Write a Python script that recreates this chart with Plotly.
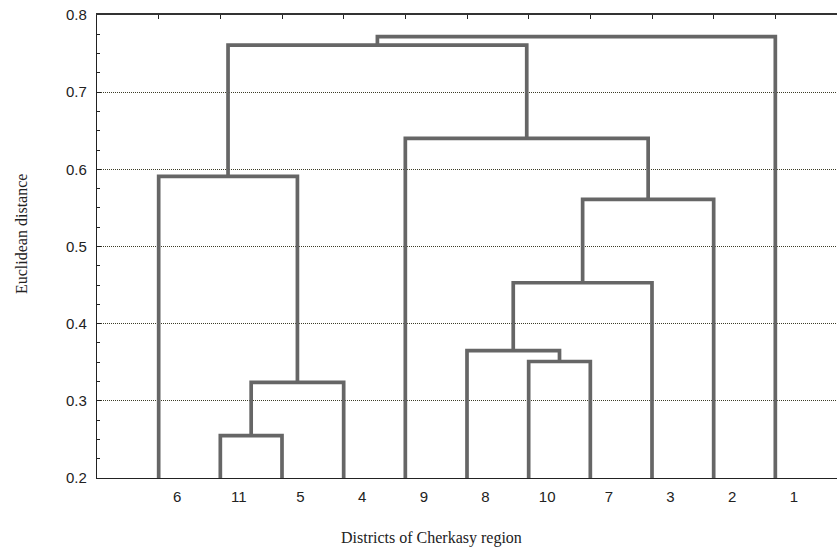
import plotly.graph_objects as go

# ---- data ----
leaf_order = ["6", "11", "5", "4", "9", "8", "10", "7", "3", "2", "1"]
merge_left = ["11", "C1", "6", "10", "8", "C5", "C6", "9", "C3", "C9"]
merge_right = ["5", "4", "C2", "7", "C4", "3", "2", "C7", "C8", "1"]
merge_height = [0.255, 0.324, 0.591, 0.351, 0.365, 0.453, 0.561, 0.640, 0.761, 0.772]
y_ticks = [0.2, 0.3, 0.4, 0.5, 0.6, 0.7, 0.8]
y_tick_text = ["0.2", "0.3", "0.4", "0.5", "0.6", "0.7", "0.8"]
base_level = 0.2

# ---- build dendrogram path from the linkage ----
pos = {lab: i + 1 for i, lab in enumerate(leaf_order)}
hgt = {lab: base_level for lab in leaf_order}
xs, ys = [], []
for k, (a, b, h) in enumerate(zip(merge_left, merge_right, merge_height)):
    xa, xb = pos[a], pos[b]
    xs += [xa, xa, xb, xb, None]
    ys += [hgt[a], h, h, hgt[b], None]
    cid = "C%d" % (k + 1)
    pos[cid] = (xa + xb) / 2
    hgt[cid] = h

W, H = 837, 549
ml, mr, mt, mb = 97, 0, 15, 71
pw, ph = W - ml - mr, H - mt - mb


def px_x(x):  # screen px -> paper x
    return (x - ml) / pw


def px_y(y):  # screen px -> paper y
    return (H - mb - y) / ph


fig = go.Figure()
fig.add_trace(go.Scatter(x=xs, y=ys, mode="lines",
                         line=dict(color="#666666", width=3.7),
                         hoverinfo="skip", showlegend=False))
fig.add_trace(go.Scatter(x=[1], y=[0.5], xaxis="x2", mode="markers",
                         marker=dict(opacity=0), showlegend=False, hoverinfo="skip"))

tick_font = dict(family="Liberation Sans, Arial, sans-serif", size=15, color="#222222")
xr = [0, 12]

fig.update_layout(
    width=W, height=H,
    margin=dict(l=ml, r=mr, t=mt, b=mb, autoexpand=False),
    paper_bgcolor="white", plot_bgcolor="white",
    xaxis=dict(range=xr, tickmode="array", automargin=False,
               tickvals=[i + 1.3 for i in range(len(leaf_order))],
               ticktext=leaf_order, ticks="", showgrid=False, zeroline=False,
               showline=True, linecolor="#222222", linewidth=1,
               tickfont=tick_font, ticklabelstandoff=5, ticklabeloverflow="allow"),
    xaxis2=dict(range=xr, overlaying="x", side="top", anchor="y", automargin=False,
                tickmode="array", tickvals=[i + 1 for i in range(len(leaf_order))],
                ticks="inside", ticklen=4, tickcolor="#222222",
                showticklabels=False, showgrid=False, zeroline=False,
                showline=True, linecolor="#333333", linewidth=1.5),
    yaxis=dict(range=[0.2, 0.8], tickmode="array", tickvals=y_ticks, automargin=False,
               ticktext=y_tick_text, ticks="inside", ticklen=4, tickcolor="#222222",
               showgrid=True, gridcolor="#3d3d28", griddash="1px,1px", gridwidth=1,
               zeroline=False, showline=True, linecolor="#222222", linewidth=1.2,
               tickfont=tick_font, ticklabelstandoff=6, ticklabeloverflow="allow",
               minor=dict(dtick=0.025, tick0=0.2, ticks="inside", ticklen=3,
                          tickcolor="#222222", showgrid=False)),
    annotations=[
        dict(text="Districts of Cherkasy region", xref="paper", yref="paper",
             x=px_x(431), y=px_y(538), showarrow=False,
             xanchor="center", yanchor="middle",
             font=dict(family="Liberation Serif, Times New Roman, serif", size=16, color="#222222")),
        dict(text="Euclidean distance", xref="paper", yref="paper",
             x=px_x(21), y=px_y(234), showarrow=False, textangle=-90,
             xanchor="center", yanchor="middle",
             font=dict(family="Liberation Serif, Times New Roman, serif", size=16, color="#222222")),
    ],
)

fig.write_html("out.html", config={"displayModeBar": False},
               post_script="document.body.style.margin='0px';")
